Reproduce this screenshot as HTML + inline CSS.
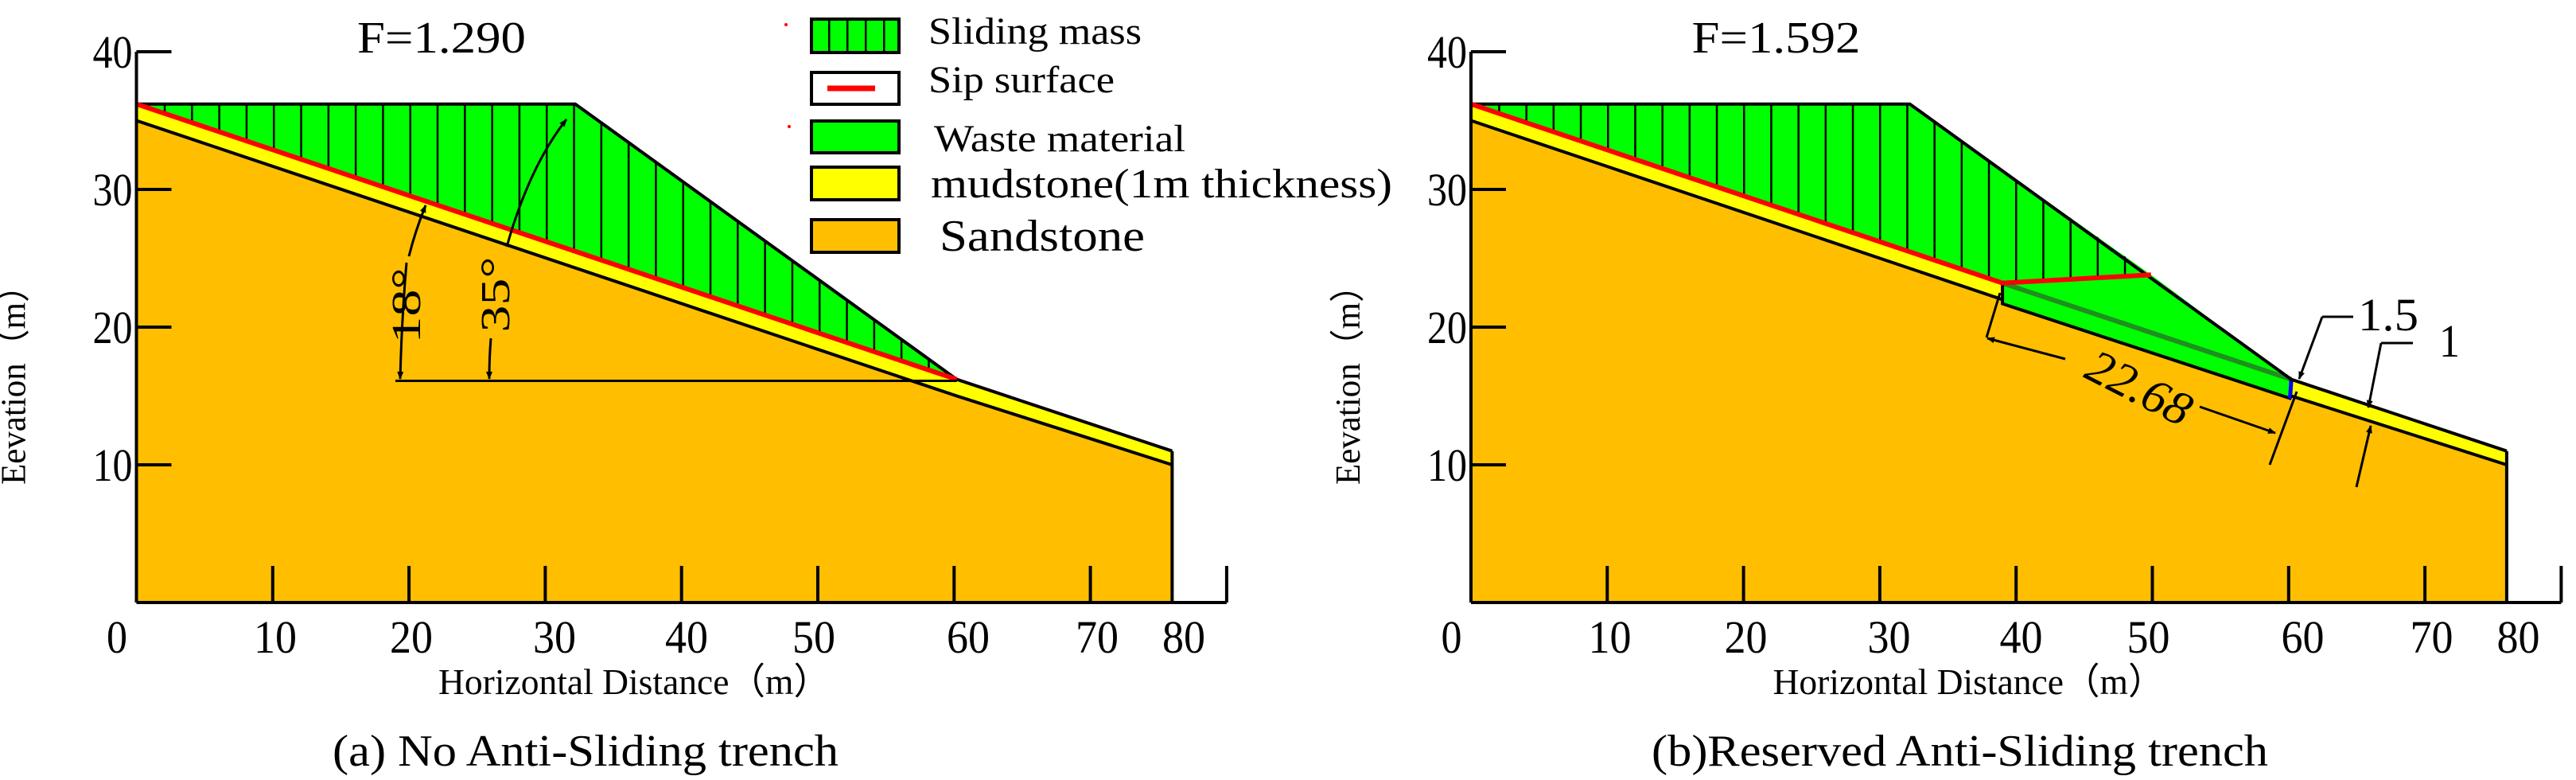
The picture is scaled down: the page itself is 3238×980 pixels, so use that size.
<!DOCTYPE html>
<html><head><meta charset="utf-8"><style>
html,body{margin:0;padding:0;background:#fff;}
svg{display:block;}
text{font-family:"Liberation Serif",serif;fill:#000;}
</style></head><body>
<svg id="fig" width="3238" height="980" viewBox="0 0 3238 980" xmlns="http://www.w3.org/2000/svg" font-family="Liberation Serif, serif">
<defs>
<marker id="ah" markerWidth="10" markerHeight="10" refX="9" refY="5" orient="auto" markerUnits="userSpaceOnUse" viewBox="0 0 10 10"><path d="M0,1 L10,5 L0,9 Z" fill="#000"/></marker>
<pattern id="hatch" patternUnits="userSpaceOnUse" width="34.3" height="40" x="171.5"><rect width="34.3" height="40" fill="#00ff00"/><line x1="1" y1="0" x2="1" y2="40" stroke="#000" stroke-width="3"/></pattern>
<pattern id="hatch2" patternUnits="userSpaceOnUse" width="34.2" height="40" x="1849"><rect width="34.2" height="40" fill="#00ff00"/><line x1="1" y1="0" x2="1" y2="40" stroke="#000" stroke-width="3"/></pattern>
<pattern id="lhatch" patternUnits="userSpaceOnUse" width="23" height="40" x="1018"><rect width="23" height="40" fill="#00ff00"/><line x1="1" y1="0" x2="1" y2="40" stroke="#000" stroke-width="3"/></pattern>
</defs>
<g id="panelA"></g>
<g id="panelB"></g>
<g id="legend"></g>
</svg>
<script>
// ---- data (metres) ----
const xTicks = [10,20,30,40,50,60,70];
const xTickLabels = ["0","10","20","30","40","50","60","70","80"];
const xLabelPos = [147,346,517,697,863,1023,1217,1379,1488];
const yTicks = [10,20,30,40];
const yTickLabels = ["10","20","30","40"];
const slopeTop = [[0,36.2],[32.2,36.2],[60.2,16.2],[76,11]];
const mudTop = [[0,36.2],[60.2,16.2],[76,11]];
const mudBottom = [[0,35],[60.2,15],[76,10]];
const slipA = [[0,36.2],[60.2,16.2]];
const slipB = [[0,36.2],[39,23.2],[49.9,23.8]];
const trenchBottom = [[39,21.7],[60.2,14.8]];
const factors = ["F=1.290","F=1.592"];
const captions = ["(a) No Anti-Sliding trench","(b)Reserved Anti-Sliding trench"];

const NS="http://www.w3.org/2000/svg";
function mk(parent,tag,attrs){const e=document.createElementNS(NS,tag);for(const k in attrs)e.setAttribute(k,attrs[k]);parent.appendChild(e);return e;}
const Y=y=>757-y*17.3;
function poly(pts,X){return pts.map(p=>X(p[0]).toFixed(1)+","+Y(p[1]).toFixed(1)).join(" ");}
function txt(parent,s,x,y,size,len,anchor){const t=mk(parent,'text',{x:x,y:y,'font-size':size,'text-anchor':anchor||'middle','font-family':'Liberation Serif, serif'});if(len){t.setAttribute('textLength',len);t.setAttribute('lengthAdjust','spacingAndGlyphs');}t.textContent=s;return t;}

function panel(g,ox,variant){
  const X=x=>ox+x*17.13;
  const sand=mk(g,'polygon',{points:poly([[0,0],...mudBottom,[76,0]],X),fill:'#ffbf00'});
  
  
  const mud=mk(g,'polygon',{points:poly([...mudTop,...mudBottom.slice().reverse()],X),fill:'#ffff00'});
  
  
  if(variant===0){
    const sm=mk(g,'polygon',{points:poly([[0,36.2],[32.2,36.2],[60.2,16.2]],X),fill:'url(#hatch)'});
    
    
  } else {
    const w=mk(g,'polygon',{points:poly([[39,23.2],[49.9,23.8],[60.2,16.2],trenchBottom[1],trenchBottom[0]],X),fill:'#00ff00'});
    
    
    const sm=mk(g,'polygon',{points:poly([[0,36.2],[32.2,36.2],[49.9,23.8],[39,23.2]],X),fill:'url(#hatch2)'});
    
    
    const dl=mk(g,'polyline',{points:poly([[39,23.2],[60.2,16.2]],X),fill:'none',stroke:'#1f8f1f','stroke-width':6});
    
    
    const tb=mk(g,'polyline',{points:poly([[39,23.2],...trenchBottom],X),fill:'none',stroke:'#000','stroke-width':4});
    
    
    const bl=mk(g,'polyline',{points:poly([[60.2,16.2],[60.1,14.8]],X),fill:'none',stroke:'#0000ff','stroke-width':5});
    
    
  }
  const st=mk(g,'polyline',{points:poly(slopeTop,X),fill:'none',stroke:'#000','stroke-width':4});
  
  
  const mb=mk(g,'polyline',{points:poly(variant===0?mudBottom:[[0,35],[39,22]],X),fill:'none',stroke:'#000','stroke-width':4});
  
  
  if(variant===1){mk(g,'polyline',{points:poly([[60.2,15],[76,10]],X),fill:'none',stroke:'#000','stroke-width':4});}
  mk(g,'line',{x1:X(76),y1:Y(11),x2:X(76),y2:Y(0),stroke:'#000','stroke-width':4});
  const slip=mk(g,'polyline',{points:poly(variant===0?slipA:slipB,X),fill:'none',stroke:'#ff0000','stroke-width':6});
  
  
  const ax=mk(g,'g',{});
  
  
  mk(ax,'line',{x1:X(0),y1:Y(0),x2:X(80),y2:Y(0),stroke:'#000','stroke-width':4});
  mk(ax,'line',{x1:X(0),y1:Y(0),x2:X(0),y2:Y(40),stroke:'#000','stroke-width':4});
  mk(ax,'line',{x1:X(80),y1:Y(0),x2:X(80),y2:Y(0)-46,stroke:'#000','stroke-width':4});
  xTicks.forEach(v=>{const t=mk(ax,'line',{x1:X(v),y1:Y(0),x2:X(v),y2:Y(0)-46,stroke:'#000','stroke-width':4});
    
    });
  yTicks.forEach((v,i)=>{const t=mk(ax,'line',{x1:X(0),y1:Y(v),x2:X(0)+44,y2:Y(v),stroke:'#000','stroke-width':4});
    
    
    const l=txt(ax,yTickLabels[i],X(0)-30,Y(v)+20,58,50);
    
    });
  xTickLabels.forEach((s,i)=>{const l=txt(ax,s,xLabelPos[i]+(ox-171.5),820,58,s.length>1?54:26);
    
    });
  const xt=txt(ax,"Horizontal Distance（m）",X(0)+(797-171.5),872,46,492);
  
  
  const yt=txt(ax,"Eevation（m）",0,0,44,272);
  yt.setAttribute('transform','translate('+(X(0)-140)+',473) rotate(-90)');
  
  
  const f=txt(g,factors[variant],X(0)+(555-171.5),66,56,212);
  
  
  const c=txt(g,captions[variant],X(0)+(736-171.5)+(variant?50:0),962,56,variant?775:636);
  
  
  return X;
}
const gA=document.getElementById('panelA'), gB=document.getElementById('panelB');
const XA=panel(gA,171.5,0);
const XB=panel(gB,1849,1);
const an=mk(gA,'g',{});


mk(an,'line',{x1:XA(19),y1:Y(16.1),x2:XA(60.2),y2:Y(16.1),stroke:'#000','stroke-width':3});
mk(an,'path',{d:'M511,330 Q505,400 503,476',fill:'none',stroke:'#000','stroke-width':3,'marker-end':'url(#ah)'});
mk(an,'path',{d:'M514,322 Q522,290 535,258',fill:'none',stroke:'#000','stroke-width':3,'marker-end':'url(#ah)'});
mk(an,'path',{d:'M617,425 Q615,450 615,476',fill:'none',stroke:'#000','stroke-width':3,'marker-end':'url(#ah)'});
mk(an,'path',{d:'M637,310 Q665,210 712,150',fill:'none',stroke:'#000','stroke-width':3,'marker-end':'url(#ah)'});
let t1=txt(an,"18°",0,0,52,95);t1.setAttribute('transform','translate(528,384) rotate(-90)');
let t2=txt(an,"35°",0,0,52,95);t2.setAttribute('transform','translate(640,370) rotate(-90)');
const dm=mk(gB,'g',{});


const L=(a,b,c,d,m)=>{const e=mk(dm,'line',{x1:a,y1:b,x2:c,y2:d,stroke:'#000','stroke-width':3});if(m)e.setAttribute('marker-end','url(#ah)');return e;};
L(2514,368,2497,424);
L(2596,451,2498,425,1);
L(2765,511,2860,544,1);
L(2887,492,2853,584);
L(2919,398,2890,476,1);L(2919,398,2958,398);
L(2993,431,2977,512,1);L(2993,431,3033,431);
L(2962,612,2980,535,1);
let d1=txt(dm,"22.68",0,0,60,140);d1.setAttribute('transform','translate(2680,505) rotate(27)');d1.setAttribute('font-style','italic');
txt(dm,"1.5",3002,415,58,76);
txt(dm,"1",3079,448,58,26);
const lg=document.getElementById('legend');
const entries=[
 {fill:'url(#lhatch)',y:24,h:42,label:"Sliding mass",tx:1167,ty:55,size:48,len:268},
 {fill:'#fff',y:91,h:40,label:"Sip surface",tx:1167,ty:116,size:48,len:234,red:true},
 {fill:'#00ff00',y:152,h:40,label:"Waste material",tx:1174,ty:190,size:48,len:316},
 {fill:'#ffff00',y:210,h:41,label:"mudstone(1m thickness)",tx:1170,ty:248,size:52,len:580},
 {fill:'#ffbf00',y:276,h:41,label:"Sandstone",tx:1181,ty:315,size:56,len:258}
];
entries.forEach(e=>{
  const r=mk(lg,'rect',{x:1020,y:e.y,width:110,height:e.h,fill:e.fill,stroke:'#000','stroke-width':4});
  
  
  if(e.red) mk(lg,'line',{x1:1040,y1:e.y+e.h/2,x2:1100,y2:e.y+e.h/2,stroke:'#ff0000','stroke-width':7});
  const t=txt(lg,e.label,e.tx,e.ty,e.size,e.len,'start');
  
  
});
mk(lg,'circle',{cx:988,cy:31,r:2,fill:'#ff0000'});
mk(lg,'circle',{cx:992,cy:159,r:2,fill:'#ff0000'});
</script>
</body></html>
